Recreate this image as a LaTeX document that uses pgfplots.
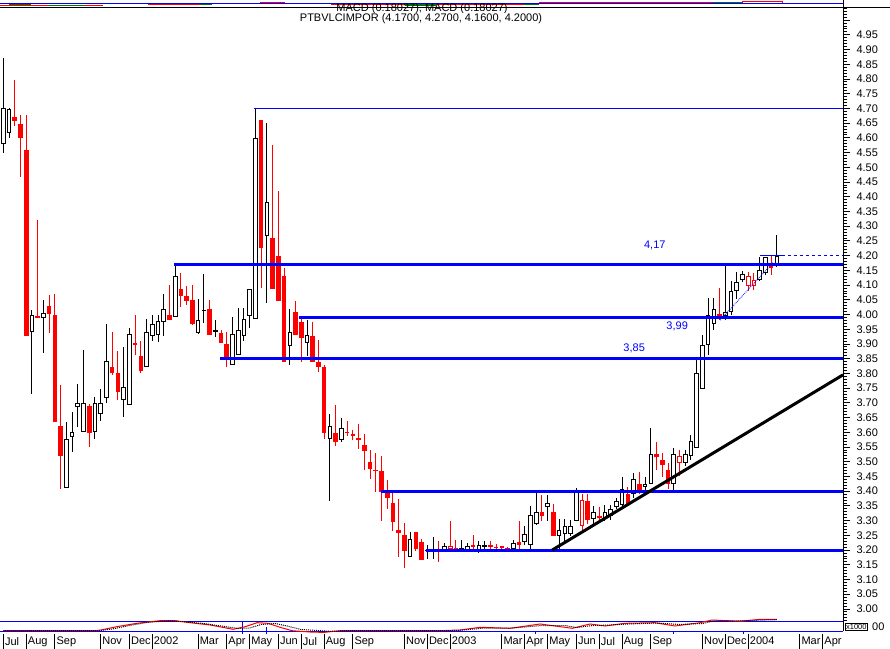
\documentclass[border=0pt]{standalone}
\usepackage{pgfplots}
\pgfplotsset{compat=1.18}
\usepackage{pgfplotstable}
\usepackage{fontspec}
\setmainfont{Liberation Sans}

% white (hollow black) candles: index open high low close
\pgfplotstableread{
i o h l c
0 4.580 4.870 4.550 4.700
1 4.617 4.700 4.600 4.698
5 3.939 4.015 3.731 3.998
7 3.988 4.049 3.870 4.005
11 3.410 3.634 3.410 3.578
12 3.583 3.669 3.534 3.600
13 3.687 3.764 3.619 3.701
14 3.600 3.879 3.600 3.701
16 3.600 3.719 3.578 3.701
17 3.663 3.746 3.638 3.701
18 3.718 3.968 3.701 3.842
21 3.710 3.891 3.653 3.753
22 3.693 3.955 3.693 3.934
25 3.823 3.986 3.820 3.939
26 3.928 3.998 3.911 3.969
27 3.931 3.998 3.908 3.978
28 3.976 4.070 3.928 4.020
30 3.991 4.171 3.991 4.131
34 3.938 4.054 3.934 3.983
35 4.014 4.138 3.972 4.016
37 3.944 3.981 3.925 3.946
40 3.830 3.993 3.830 3.934
41 3.861 4.022 3.861 3.947
42 3.928 4.022 3.911 3.986
43 3.996 4.085 3.955 4.085
44 3.986 4.700 3.986 4.598
46 4.268 4.649 4.040 4.381
50 3.894 4.019 3.829 3.939
53 3.904 3.981 3.859 3.932
57 3.578 3.663 3.365 3.621
59 3.575 3.647 3.567 3.616
71 3.178 3.261 3.178 3.237
74 3.199 3.217 3.171 3.201
75 3.200 3.245 3.171 3.205
77 3.200 3.225 3.198 3.214
80 3.201 3.234 3.195 3.208
81 3.200 3.223 3.195 3.214
83 3.200 3.232 3.191 3.217
84 3.214 3.232 3.200 3.216
89 3.202 3.235 3.200 3.223
91 3.229 3.280 3.217 3.255
92 3.217 3.350 3.205 3.319
93 3.290 3.396 3.285 3.330
95 3.346 3.388 3.299 3.360
97 3.249 3.307 3.203 3.268
98 3.256 3.305 3.232 3.280
99 3.256 3.302 3.248 3.282
100 3.297 3.410 3.297 3.405
103 3.307 3.350 3.290 3.330
105 3.307 3.353 3.297 3.330
106 3.314 3.353 3.302 3.338
107 3.346 3.378 3.338 3.367
108 3.353 3.449 3.350 3.409
110 3.390 3.462 3.378 3.440
112 3.415 3.449 3.405 3.425
113 3.425 3.616 3.425 3.527
117 3.425 3.548 3.404 3.527
119 3.497 3.541 3.485 3.527
120 3.520 3.590 3.506 3.570
121 3.548 3.847 3.548 3.800
122 3.748 3.930 3.748 3.898
123 3.898 4.057 3.862 3.998
124 3.969 4.057 3.947 4.020
126 3.996 4.166 3.982 4.010
127 4.009 4.115 3.998 4.080
128 4.080 4.145 4.053 4.109
129 4.118 4.148 4.110 4.139
132 4.118 4.196 4.115 4.151
133 4.142 4.196 4.134 4.196
135 4.170 4.270 4.160 4.200
}\candW

% red filled candles
\pgfplotstableread{
i o h l c
2 4.671 4.796 4.640 4.658
3 4.647 4.677 4.467 4.600
4 4.559 4.677 3.928 3.928
6 3.996 4.321 3.988 3.990
8 4.029 4.066 3.938 4.000
9 3.998 4.070 3.636 3.636
10 3.621 3.761 3.406 3.518
15 3.689 3.697 3.551 3.599
19 3.823 3.941 3.795 3.802
20 3.802 3.877 3.710 3.737
23 3.902 3.998 3.862 3.899
24 3.859 3.910 3.802 3.809
29 3.998 4.100 3.980 3.981
31 4.087 4.142 4.026 4.063
32 4.063 4.097 4.032 4.046
33 4.049 4.100 3.964 3.968
36 4.017 4.049 3.930 3.931
38 3.936 3.947 3.904 3.904
39 3.900 3.939 3.820 3.854
45 4.660 4.660 4.089 4.227
47 4.261 4.576 4.087 4.087
48 4.199 4.419 4.047 4.047
49 4.131 4.159 3.840 3.840
51 4.010 4.046 3.930 3.930
52 3.976 3.990 3.840 3.921
54 3.927 3.976 3.840 3.840
55 3.840 3.915 3.805 3.823
56 3.820 3.830 3.577 3.599
58 3.599 3.693 3.553 3.567
60 3.601 3.638 3.589 3.598
61 3.594 3.609 3.574 3.590
62 3.580 3.628 3.543 3.577
63 3.557 3.594 3.472 3.537
64 3.500 3.541 3.442 3.474
65 3.473 3.528 3.398 3.468
66 3.469 3.519 3.297 3.398
67 3.398 3.438 3.341 3.378
68 3.360 3.401 3.266 3.295
69 3.268 3.374 3.178 3.259
70 3.251 3.293 3.140 3.198
72 3.261 3.261 3.197 3.203
73 3.229 3.239 3.166 3.166
76 3.205 3.232 3.161 3.200
79 3.208 3.234 3.198 3.200
82 3.217 3.251 3.200 3.211
85 3.215 3.232 3.205 3.213
86 3.210 3.220 3.200 3.208
87 3.214 3.215 3.200 3.209
88 3.206 3.210 3.200 3.204
90 3.229 3.300 3.200 3.217
94 3.330 3.387 3.299 3.316
96 3.330 3.358 3.248 3.248
102 3.367 3.390 3.290 3.302
104 3.314 3.347 3.297 3.311
109 3.390 3.415 3.350 3.357
111 3.425 3.466 3.390 3.405
114 3.526 3.568 3.472 3.517
115 3.507 3.530 3.449 3.488
116 3.473 3.496 3.409 3.425
125 4.000 4.089 3.981 3.996
134 4.176 4.199 4.134 4.159
}\candR

% hollow red candles
\pgfplotstableread{
i o h l c
78 3.205 3.299 3.200 3.214
101 3.280 3.392 3.259 3.370
118 3.497 3.540 3.450 3.520
130 4.097 4.145 4.080 4.131
131 4.097 4.142 4.083 4.118
}\candH

% MACD (panel units)
\pgfplotstableread{
x m
0 0.3
16 0.3
17 1
19.8 4.3
23.3 7.7
27.3 10.3
30 10.3
33.5 7.7
36.1 6
40.1 1.7
42.2 4.3
44.3 8.3
46.2 7.7
48.3 3.7
50.4 0.3
54 -1.2
56.1 -1.3
58.8 0.3
76.2 0.3
79.7 1
83.2 3.7
88.4 2.7
93.7 7
97.2 4.3
99.3 2.7
102.4 7
105 5
108.5 7.7
113.7 8.3
117.2 5
121.6 8.3
123.7 11
128.6 9.7
132.1 11.7
135 11.7
}\macdR

\pgfplotstableread{
x m
0 0.5
17 0.5
19 2
22 5.5
25 8.5
29 10.3
32 9
35 7.5
38 5
41 2.5
43 3
45 6.5
47.5 7.5
49.5 5
52 1.5
57 -0.3
60 0.3
77 0.3
80 0.8
84 3
89 3
94 5.5
98 5.5
100 3.5
103 5.5
106 6
109 7
114 8
118 6.5
122 7.5
124 10
129 10.3
133 11
135 11.3
}\macdS

\newcommand{\wicks}[2]{%
\addplot[draw=none, mark=none, forget plot, error bars/.cd, y dir=both, y explicit, error mark=none,
  error bar style={draw=#2, line width=1bp}]
  table[x=i, y expr={(\thisrow{h}+\thisrow{l})/2}, y error expr={(\thisrow{h}-\thisrow{l})/2}] {#1};}
\newcommand{\bodies}[2]{%
\addplot[draw=none, mark=none, forget plot, error bars/.cd, y dir=both, y explicit, error mark=none,
  error bar style={draw=#2, line width=4.6bp}]
  table[x=i, y expr={(\thisrow{o}+\thisrow{c})/2}, y error expr={max(abs(\thisrow{c}-\thisrow{o})/2,0.0018)}] {#1};}
\newcommand{\inner}[1]{%
\addplot[draw=none, mark=none, forget plot, error bars/.cd, y dir=both, y explicit, error mark=none,
  error bar style={draw=white, line width=2.6bp}]
  table[x=i, y expr={(\thisrow{o}+\thisrow{c})/2}, y error expr={max(abs(\thisrow{c}-\thisrow{o})/2-0.0034,0)}] {#1};}

\newcommand{\fs}{\fontsize{11bp}{12bp}\selectfont}
\colorlet{dgreen}{green!45!black}

\begin{document}
\begin{tikzpicture}
\path[use as bounding box] (0,0) rectangle (890bp,649bp);

% top indicator strip (x in pixels, y = 8 - pixel row)
\begin{axis}[at={(0bp,641bp)}, anchor=south west, scale only axis,
  width=843bp, height=8bp, xmin=0, xmax=843, ymin=0, ymax=8, hide axis, clip=false]
\addplot[red, line width=1bp] coordinates {(0,2.3) (103,2.3)};
\addplot[dgreen, line width=1.7bp] coordinates {(8.5,4) (31,4)};
\addplot[dgreen, line width=1.3bp] coordinates {(48,2.3) (85,2.3)};
\addplot[red, line width=1.3bp] coordinates {(148,3.5) (200,3.5)};
\addplot[dgreen, line width=1.3bp] coordinates {(200,3.5) (212,3.5)};
\addplot[red, line width=1.6bp] coordinates {(260,5.5) (285,5.5)};
\addplot[red, line width=1bp] coordinates {(285,4.5) (331,4.5)};
\addplot[red, line width=1.3bp] coordinates {(331,4) (525,4)};
\addplot[dgreen, line width=1.5bp] coordinates {(405,3.2) (436,3.2)};
\addplot[dgreen, line width=1.3bp] coordinates {(524,3.7) (539,3.7)};
\addplot[red, line width=1bp] coordinates {(539,5) (650,5)};
\addplot[red, line width=1.6bp] coordinates {(650,5.5) (713,5.5)};
\addplot[dgreen, line width=1.6bp] coordinates {(713,5.5) (742,5.5)};
\addplot[red, line width=0.8bp] coordinates {(742,4.7) (742,7) (782,7) (782,4.7)};
\addplot[blue, line width=1bp] coordinates {(0,4.7) (843,4.7)};
\end{axis}

% main price panel
\begin{axis}[at={(0bp,28bp)}, anchor=south west, scale only axis,
  width=843bp, height=613bp,
  xmin=-0.576, xmax=146.54, ymin=2.959, ymax=5.041,
  axis line style={draw=none},
  xtick=\empty,
  ytick={3.00,3.05,...,4.96},
  minor ytick={2.96,2.97,...,5.045},
  extra y ticks={5.00}, extra y tick labels={},
  ytick pos=right, yticklabel pos=right,
  tick align=outside, major tick length=7bp, minor tick length=4bp,
  every tick/.style={black, line width=0.8bp},
  yticklabel style={font=\fs, anchor=west, xshift=3bp,
    /pgf/number format/fixed, /pgf/number format/fixed zerofill,
    /pgf/number format/precision=2},
  /pgf/number format/assume math mode=true,
]
\wicks{\candW}{black}
\wicks{\candR}{red}
\wicks{\candH}{red}
\bodies{\candW}{black}
\bodies{\candR}{red}
\bodies{\candH}{red}
\inner{\candW}
\inner{\candH}

% support / resistance lines
\addplot[blue, line width=1bp] coordinates {(43.75,4.70) (146.54,4.70)};
\addplot[blue, line width=3bp] coordinates {(29.8,4.17) (146.54,4.17)};
\addplot[blue, line width=3bp] coordinates {(51.6,3.99) (146.54,3.99)};
\addplot[blue, line width=3bp] coordinates {(37.8,3.85) (146.54,3.85)};
\addplot[blue, line width=3bp] coordinates {(65.9,3.40) (146.54,3.40)};
\addplot[blue, line width=3bp] coordinates {(73.8,3.20) (146.54,3.20)};
\addplot[black, line width=3bp] coordinates {(95.8,3.20) (146.54,3.795)};
\addplot[blue, line width=0.8bp, densely dotted] coordinates {(125.1,3.981) (134.3,4.176)};
\addplot[blue, line width=0.8bp] coordinates {(132.1,4.20) (135.9,4.20)};
\addplot[blue, line width=0.8bp, dashed] coordinates {(135.9,4.20) (146.54,4.20)};

\node[blue, font=\fs] at (axis cs:113.7,4.233) {4,17};
\node[blue, font=\fs] at (axis cs:117.6,3.958) {3,99};
\node[blue, font=\fs] at (axis cs:110.1,3.886) {3,85};
\end{axis}

% MACD panel
\begin{axis}[at={(0bp,15.3bp)}, anchor=south west, scale only axis,
  width=843bp, height=12.7bp,
  xmin=-0.576, xmax=146.54, ymin=-2.7, ymax=10, clip=false,
  axis line style={draw=none},
  ytick=\empty,
  xtick={0,4,9,17,22,26,34,39,43,48,52,56,61,70,74,78,87,91,95,100,104,108,113,122,126,130,139,143},
  xticklabels={Jul,Aug,Sep,Nov,Dec,2002,Mar,Apr,May,Jun,Jul,Aug,Sep,Nov,Dec,2003,Mar,Apr,May,Jun,Jul,Aug,Sep,Nov,Dec,2004,Mar,Apr},
  xtick pos=bottom, tick align=outside, major tick length=15.3bp,
  every tick/.style={black, line width=0.8bp},
  xticklabel style={font=\fs, anchor=north west, inner sep=0.5bp, xshift=1bp, yshift=12.5bp},
]
\addplot[blue, line width=1bp] coordinates {(-0.576,9.7) (146.54,9.7)};
\addplot[blue, line width=1bp] coordinates {(-0.576,0) (146.54,0)};
\addplot[blue, line width=0.8bp] coordinates {(41.8,9.7) (41.8,-2.7)};
\addplot[blue, line width=0.8bp] coordinates {(46.0,4) (46.0,-2.7)};
\addplot[blue, line width=0.8bp] coordinates {(92.9,0) (92.9,-2.7)};
\addplot[blue, line width=0.8bp] coordinates {(116.9,0) (116.9,-2.7)};
\addplot[blue, line width=0.8bp] coordinates {(129.1,0) (129.1,-2.7)};
\addplot[red, line width=1bp] table[x=x, y=m] {\macdR};
\addplot[black, line width=1bp, densely dotted] table[x=x, y=m] {\macdS};
\end{axis}

% frame lines
\draw[black, line width=1bp] (0,641bp) -- (890bp,641bp);
\draw[black, line width=1bp] (843bp,649bp) -- (843bp,18bp);

% titles
\node[font=\fs, anchor=center] at (422bp,640bp) {MACD (0.18027), MACD (0.18027)};
\node[font=\fs, anchor=center, fill=white, inner sep=0.3bp] at (421bp,630.5bp) {PTBVLCIMPOR (4.1700, 4.2700, 4.1600, 4.2000)};

\node[draw, line width=0.6bp, font=\fontsize{7.5bp}{8bp}\selectfont, inner sep=0.8bp, anchor=west] at (845bp,22bp) {x1000};
\node[font=\fs, anchor=west, inner sep=0pt] at (872bp,22bp) {00};
\end{tikzpicture}
\end{document}
